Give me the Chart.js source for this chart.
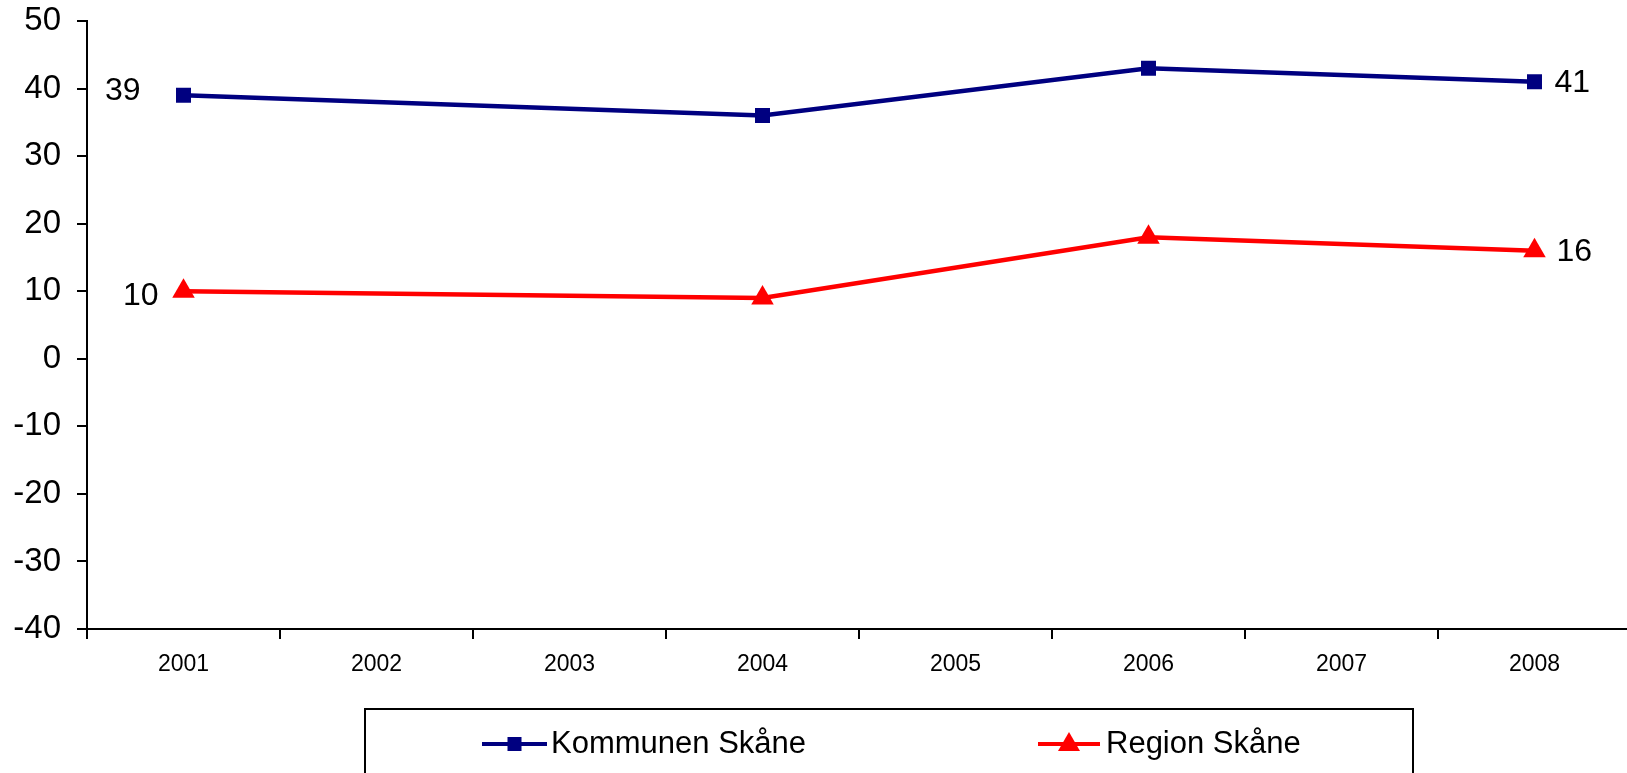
<!DOCTYPE html>
<html>
<head>
<meta charset="utf-8">
<script src="https://cdn.jsdelivr.net/npm/chart.js@4/dist/chart.umd.min.js"></script>
<style>
html,body{margin:0;padding:0;overflow:hidden;background:#fff;}
#c{display:block;}
</style>
</head>
<body>
<canvas id="c" width="1640" height="773" style="width:1640px;height:773px"></canvas>
<script>
const categories = ['2001','2002','2003','2004','2005','2006','2007','2008'];
const kommunenValues = [39, null, null, 36, null, 43, null, 41];
const regionValues = [10, null, null, 9, null, 18, null, 16];
const seriesNames = ['Kommunen Skåne', 'Region Skåne'];
const yTicks = [50, 40, 30, 20, 10, 0, -10, -20, -30, -40];

const FONT = '"Liberation Sans", Arial, sans-serif';

const endLabels = {
  id: 'endLabels',
  afterDatasetsDraw(chart) {
    const ctx = chart.ctx;
    ctx.save();
    ctx.font = '32px ' + FONT;
    ctx.fillStyle = '#000';
    ctx.textBaseline = 'middle';
    chart.data.datasets.forEach((ds, i) => {
      const meta = chart.getDatasetMeta(i);
      const idx = ds.data.map((v, j) => v == null ? -1 : j).filter(j => j >= 0);
      const first = idx[0], last = idx[idx.length - 1];
      const p0 = meta.data[first], p1 = meta.data[last];
      ctx.textAlign = 'right';
      ctx.fillText(String(ds.data[first]), p0.x - ds.leftGap, p0.y + ds.leftDy);
      ctx.textAlign = 'left';
      ctx.fillText(String(ds.data[last]), p1.x + ds.rightGap, p1.y + 1);
    });
    ctx.restore();
  }
};

const boxLegend = {
  id: 'boxLegend',
  afterDraw(chart) {
    const ctx = chart.ctx;
    ctx.save();
    ctx.strokeStyle = '#000';
    ctx.lineWidth = 2;
    ctx.strokeRect(365, 709, 1048, 80);
    const items = [
      {x0: 482, x1: 547, tx: 551, ds: chart.data.datasets[0], shape: 'rect'},
      {x0: 1038, x1: 1100, tx: 1106, ds: chart.data.datasets[1], shape: 'tri'}
    ];
    const y = 744;
    items.forEach(it => {
      ctx.strokeStyle = it.ds.borderColor;
      ctx.lineWidth = 4;
      ctx.beginPath(); ctx.moveTo(it.x0, y); ctx.lineTo(it.x1, y); ctx.stroke();
      ctx.fillStyle = it.ds.borderColor;
      const cx = (it.x0 + it.x1) / 2;
      if (it.shape === 'rect') {
        ctx.fillRect(cx - 7, y - 7, 14, 14);
      } else {
        ctx.beginPath();
        ctx.moveTo(cx, y - 12); ctx.lineTo(cx + 11, y + 7); ctx.lineTo(cx - 11, y + 7);
        ctx.closePath(); ctx.fill();
      }
      ctx.fillStyle = '#000';
      ctx.font = '31px ' + FONT;
      ctx.textAlign = 'left';
      ctx.textBaseline = 'middle';
      ctx.fillText(it.ds.label, it.tx, y);
    });
    ctx.restore();
  }
};

new Chart(document.getElementById('c'), {
  type: 'line',
  data: {
    labels: categories,
    datasets: [
      {
        label: seriesNames[0], data: kommunenValues, spanGaps: true,
        borderColor: '#000080', backgroundColor: '#000080', borderWidth: 4.5,
        pointStyle: 'rect', pointRadius: 10.6, pointBorderWidth: 0, pointHoverRadius: 10.6,
        leftGap: 43, leftDy: -4, rightGap: 20
      },
      {
        label: seriesNames[1], data: regionValues, spanGaps: true,
        borderColor: '#FF0000', backgroundColor: '#FF0000', borderWidth: 4.5,
        pointStyle: 'triangle', pointRadius: 13, pointBorderWidth: 0, pointHoverRadius: 13,
        leftGap: 25, leftDy: 5, rightGap: 22
      }
    ]
  },
  options: {
    responsive: false,
    animation: false,
    events: [],
    layout: { autoPadding: false, padding: { top: 21, right: 9, left: 0, bottom: 0 } },
    plugins: { legend: { display: false }, tooltip: { enabled: false } },
    scales: {
      x: {
        offset: true,
        grid: { offset: true, drawOnChartArea: false, drawTicks: true, tickLength: 10, color: '#000', lineWidth: 2 },
        border: { display: true, color: '#000', width: 2 },
        ticks: { color: '#000', font: { family: FONT, size: 23 }, padding: 12, maxRotation: 0, autoSkip: false },
        afterFit(s) { s.height = 144; s.paddingLeft = 0; s.paddingRight = 0; }
      },
      y: {
        min: -40, max: 50,
        afterBuildTicks(s) { s.ticks = yTicks.map(v => ({ value: v })); },
        grid: { drawOnChartArea: false, drawTicks: true, tickLength: 10, color: '#000', lineWidth: 2 },
        border: { display: true, color: '#000', width: 2 },
        ticks: { color: '#000', font: { family: FONT, size: 33 }, padding: 16 },
        afterFit(s) { s.width = 87; s.paddingTop = 0; s.paddingBottom = 0; }
      }
    }
  },
  plugins: [endLabels, boxLegend]
});
</script>
</body>
</html>
